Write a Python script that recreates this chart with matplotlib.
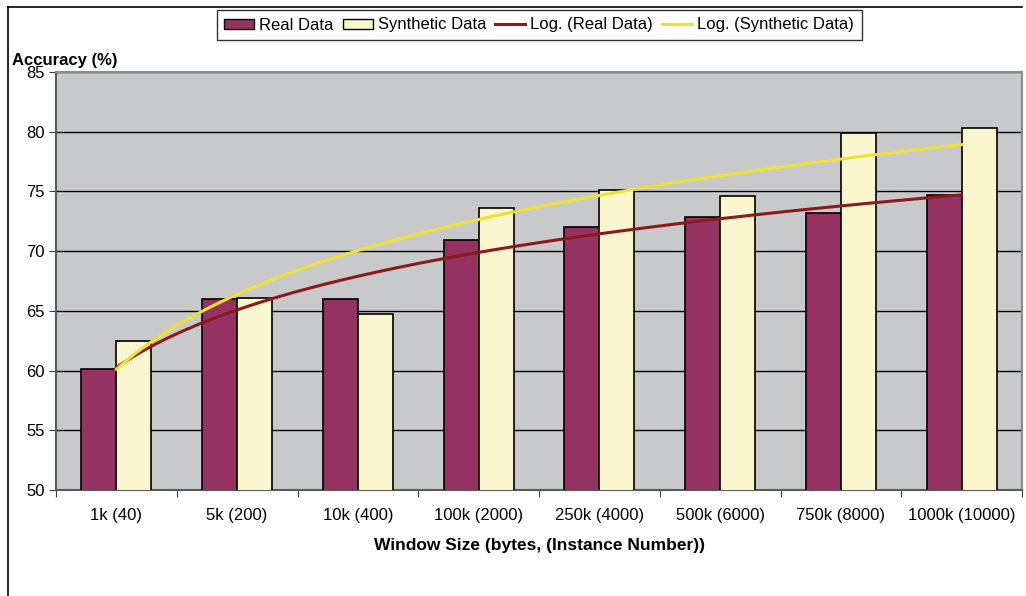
import numpy as np
import matplotlib.pyplot as plt
from matplotlib.lines import Line2D
from matplotlib.patches import Patch

plt.rcParams['font.family'] = ['Liberation Sans', 'DejaVu Sans']

# window sizes and accuracy results
categories = ['1k (40)', '5k (200)', '10k (400)', '100k (2000)', '250k (4000)',
              '500k (6000)', '750k (8000)', '1000k (10000)']
real_acc = [60.1, 66.0, 66.0, 70.9, 72.0, 72.9, 73.2, 74.7]
synth_acc = [62.5, 66.1, 64.7, 73.6, 75.1, 74.6, 79.9, 80.3]
y_ticks = [50, 55, 60, 65, 70, 75, 80, 85]

W, H = 1026, 596
fig = plt.figure(figsize=(W / 100, H / 100), dpi=100)
fig.patch.set_facecolor('white')
ax = fig.add_axes([56 / W, (H - 490) / H, 966 / W, 418 / H])
ax.set_facecolor('#c8c9cb')

x = np.arange(len(categories))
bw = 0.29
ax.bar(x - bw / 2, real_acc, bw, color='#953261', edgecolor='black', linewidth=1.2, zorder=3)
ax.bar(x + bw / 2, synth_acc, bw, color='#faf7cf', edgecolor='black', linewidth=1.2, zorder=3)


# logarithmic trendlines, as Excel fits them: y = a*ln(n) + b
def log_fit(vals):
    n = np.arange(1, len(vals) + 1)
    a, b = np.polyfit(np.log(n), vals, 1)
    t = np.linspace(1, len(vals), 200)
    return t - 1, a * np.log(t) + b


tx, ty = log_fit(real_acc)
ax.plot(tx, ty, color='#8b1a1a', linewidth=2.2, zorder=4)
tx, ty = log_fit(synth_acc)
ax.plot(tx, ty, color='#ede232', linewidth=2.2, zorder=4)

ax.set_xlim(-0.5, len(categories) - 0.5)
ax.set_ylim(50, 85)
ax.set_yticks(y_ticks)
ax.set_yticklabels([str(v) for v in y_ticks], fontsize=12)
ax.yaxis.grid(True, color='black', linewidth=1, zorder=1)
ax.set_axisbelow(True)

# category labels sit between the boundary ticks
ax.set_xticks(np.arange(len(categories) + 1) - 0.5)
ax.set_xticklabels([])
ax.set_xticks(x, minor=True)
ax.set_xticklabels(categories, minor=True, fontsize=12)
ax.tick_params(axis='x', which='minor', length=0, pad=13)
ax.tick_params(axis='x', which='major', length=5, color='#404040', direction='out')
ax.tick_params(axis='y', length=5, color='#404040', direction='out', pad=3)

for side in ['top', 'right']:
    ax.spines[side].set_color('#8c8c8c')
    ax.spines[side].set_linewidth(1.5)
ax.spines['left'].set_color('#5a5a5a')
ax.spines['bottom'].set_color('#5a5a5a')
ax.spines['left'].set_linewidth(1.5)
ax.spines['bottom'].set_linewidth(1.5)

ax.set_xlabel('Window Size (bytes, (Instance Number))', fontsize=12.5, fontweight='bold', labelpad=11)
fig.text(12 / W, 1 - 60 / H, 'Accuracy (%)', fontsize=12, fontweight='bold', ha='left', va='center')

handles = [
    Patch(facecolor='#953261', edgecolor='black', linewidth=1),
    Patch(facecolor='#faf7cf', edgecolor='black', linewidth=1),
    Line2D([], [], color='#8b1a1a', linewidth=2.2),
    Line2D([], [], color='#ede232', linewidth=2.2),
]
labels = ['Real Data', 'Synthetic Data', 'Log. (Real Data)', 'Log. (Synthetic Data)']
leg = fig.legend(handles, labels, ncol=4, loc='center', bbox_to_anchor=(539 / W, 1 - 25 / H),
                 fontsize=12, frameon=True, fancybox=False, edgecolor='black',
                 handlelength=1.8, handleheight=0.55, handletextpad=0.3, columnspacing=0.55,
                 borderpad=0.45, borderaxespad=0)
leg.get_frame().set_linewidth(1)

# outer chart frame (top and left edges)
fig.add_artist(Line2D([8 / W, 1022 / W], [1 - 7 / H, 1 - 7 / H], color='black', linewidth=1.2))
fig.add_artist(Line2D([8 / W, 8 / W], [0, 1 - 7 / H], color='black', linewidth=1.2))

fig.savefig('out.png', dpi=100)
